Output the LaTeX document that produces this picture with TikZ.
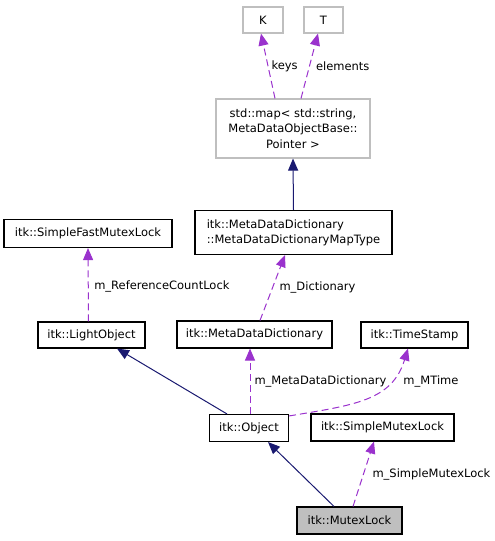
\documentclass[tikz,border=0pt]{standalone}
\usepackage{fontspec}
\setmainfont{DejaVu Sans}
\usetikzlibrary{arrows.meta}
\definecolor{usepurple}{HTML}{9A32CD}
\definecolor{inhnavy}{HTML}{191970}
\definecolor{boxgrey}{HTML}{BFBFBF}

\begin{document}
\begin{tikzpicture}[x=1pt, y=-1pt,
	every node/.style={font=\fontsize{11.5}{15}\selectfont},
	cls/.style={rectangle, draw=black, line width=1.1pt, inner sep=2pt},
	tmpl/.style={rectangle, draw=boxgrey, line width=1.1pt, inner sep=2pt},
	use/.style={draw=usepurple, line width=1pt, dash pattern=on 7pt off 4pt, -{Triangle[length=12pt,width=10pt]}},
	inh/.style={draw=inhnavy, line width=1pt, -{Triangle[length=12pt,width=10pt]}},
	lbl/.style={anchor=west, inner sep=0pt}]
			\useasboundingbox (0,0) rectangle (495,541);
			
			\node[tmpl, minimum width=40, minimum height=26] (K) at (263,20){K};
			\node[tmpl, minimum width=39, minimum height=26] (T) at (323.5,20){T};
			\node[tmpl, align=center, minimum width=154, minimum height=59, font=\fontsize{11.5}{15.5}\selectfont] (map) at (293,128.5){std::map< std::string,\\ MetaDataObjectBase::\\ Pointer >};
			\node[cls, align=left, minimum width=197, minimum height=44] (maptype) at (293.5,232.5){itk::MetaDataDictionary\\::MetaDataDictionaryMapType};
			\node[cls, minimum width=168, minimum height=28] (sfml) at (88,233.5){itk::SimpleFastMutexLock};
			\node[cls, minimum width=107, minimum height=26] (light) at (91.5,335){itk::LightObject};
			\node[cls, minimum width=155, minimum height=27] (mdd) at (254.5,334.5){itk::MetaDataDictionary};
			\node[cls, minimum width=107, minimum height=26] (stamp) at (414.5,335){itk::TimeStamp};
			\node[cls, minimum width=79, minimum height=27] (object) at (249,428){itk::Object};
			\node[cls, minimum width=143, minimum height=27] (sml) at (382.5,427.5){itk::SimpleMutexLock};
			\node[cls, fill=boxgrey, minimum width=105, minimum height=27] (mutex) at (349.5,520.5){itk::MutexLock};
			
			\path ([xshift=-18pt]map.north) edge[use] node[lbl, xshift=3pt]{keys} ([xshift=-2pt]K.south);
			\path ([xshift=8pt]map.north) edge[use] node[lbl, xshift=6pt]{elements} ([xshift=-5.5pt]T.south);
			\path (maptype.north) edge[inh] (map.south);
			\path ([xshift=5.5pt]mdd.north) edge[use] node[lbl, xshift=6.5pt]{m\_Dictionary} ([xshift=-8.5pt]maptype.south);
			\path ([xshift=-3pt]light.north) edge[use] node[lbl, xshift=5.5pt, yshift=-2pt]{m\_ReferenceCountLock} (sfml.south);
			\path ([xshift=-22pt]object.north) edge[inh] ([xshift=25.5pt]light.south);
			\path ([xshift=1pt]object.north) edge[use] node[lbl, xshift=4pt]{m\_MetaDataDictionary} ([xshift=-4.5pt]mdd.south);
			\draw[use] ([yshift=-2pt]object.north east) .. controls +(66,-11) and +(-16,52) .. ([xshift=-6.5pt]stamp.south) node[lbl, pos=0.75, xshift=11pt, yshift=-2pt]{m\_MTime};
			\path ([xshift=-15.5pt]mutex.north) edge[inh] ([xshift=19pt]object.south);
			\path ([xshift=3.5pt]mutex.north) edge[use] node[lbl, xshift=8.5pt]{m\_SimpleMutexLock} ([xshift=-8.5pt]sml.south);
			\end{tikzpicture}
\end{document}
